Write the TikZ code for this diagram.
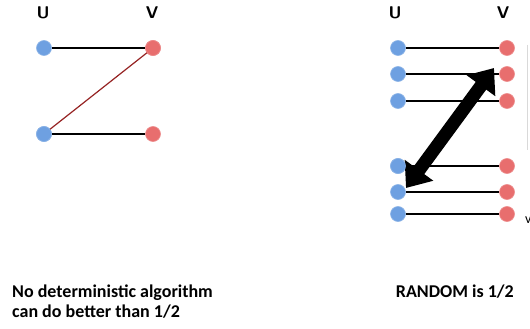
\documentclass[tikz,border=0pt]{standalone}
\usepackage{fontspec}
\setmainfont{Carlito}
\usetikzlibrary{arrows.meta}
\definecolor{ublue}{RGB}{110,160,225}
\definecolor{vred}{RGB}{232,110,110}
\definecolor{zred}{RGB}{150,35,35}
\tikzset{
  unode/.style={circle,fill=ublue,draw=ublue!80!white,line width=0.6pt,minimum size=15pt,inner sep=0pt},
  vnode/.style={circle,fill=vred,draw=vred!80!white,line width=0.6pt,minimum size=15pt,inner sep=0pt},
  edge/.style={black,line width=1.4pt},
  lab/.style={font=\sffamily\bfseries\fontsize{17}{20}\selectfont,inner sep=0pt},
  captext/.style={font=\bfseries\fontsize{18}{20}\selectfont,inner sep=0pt,align=left},
}
\begin{document}
\begin{tikzpicture}[x=1pt,y=-1pt]
\useasboundingbox[fill=white] (0,0) rectangle (530,329);
% left
\node[lab] (lu) at (43,13) {U};
\node[lab] (lv) at (152,13) {V};
\node[unode] (a1) at (44,48) {};
\node[unode] (a2) at (44,134) {};
\node[vnode] (b1) at (153,48) {};
\node[vnode] (b2) at (153,134) {};
\draw[edge] (a1) -- (b1);
\draw[edge] (a2) -- (b2);
\draw[zred,line width=1.2pt] (a2.center) -- (b1.center);
\node[unode] at (44,134) {};
\node[vnode] at (153,48) {};
% right
\node[lab] (ru) at (395,13) {U};
\node[lab] (rv) at (503,13) {V};
\foreach \i/\y in {1/48,2/74,3/101,4/166,5/192,6/214}{
  \node[unode] (u\i) at (398,\y) {};
  \node[vnode] (v\i) at (507,\y) {};
  \draw[edge] (u\i) -- (v\i);
}
\coordinate (ta) at (406,188);
\coordinate (tb) at (494,68);
\draw[black,line width=13pt,{Triangle[length=22pt,width=34pt]}-{Triangle[length=22pt,width=34pt]}] (ta) -- (tb);
\node[unode] at (398,166) {};
\draw[black!15,line width=0.8pt] (527,45) -- (527,150);
\begin{scope}
\clip (0,0) rectangle (530,329);
\node[font=\fontsize{14}{16}\selectfont,anchor=west,inner sep=0pt] (cv) at (525,220) {v};
\end{scope}
% captions
\node[captext,anchor=base west] (c1) at (12,317) {No deterministic algorithm\\can do better than 1/2};
\node[captext,anchor=base east] (c2) at (514,297) {RANDOM is 1/2};
\end{tikzpicture}
\end{document}
